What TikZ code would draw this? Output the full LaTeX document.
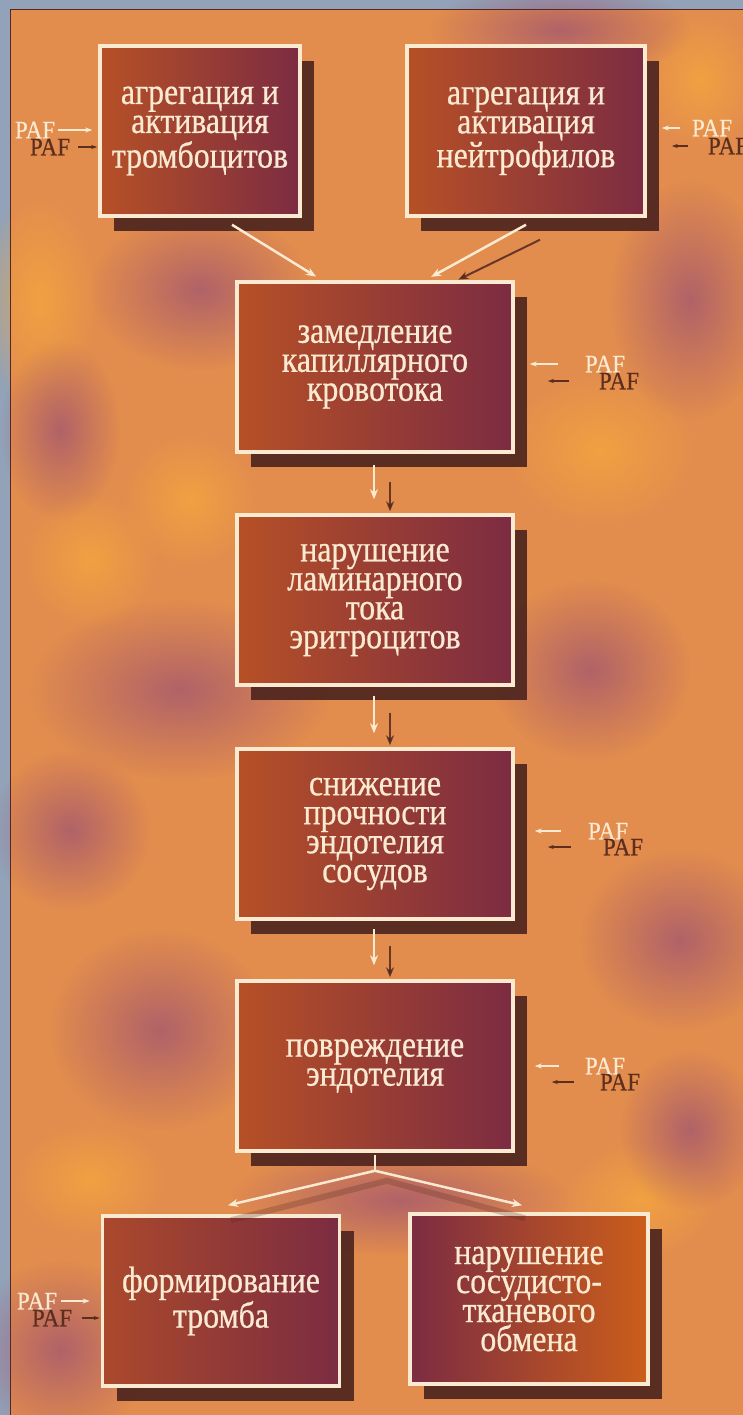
\documentclass[tikz,border=0pt]{standalone}
\usepackage{fontspec}
\setmainfont{Liberation Serif}
\newfontfamily\boxfont[FakeStretch=0.86, FakeBold=0.6]{Liberation Serif}
\newfontfamily\paffont[FakeStretch=0.92, FakeBold=0.4]{Liberation Serif}
\usetikzlibrary{positioning,calc,shadows,fadings,arrows.meta}

\definecolor{framegray}{RGB}{146,162,184}
\definecolor{bgorange}{RGB}{226,140,78}
\definecolor{bgpurple}{RGB}{160,84,112}
\definecolor{bgyellow}{RGB}{246,168,62}
\definecolor{cream}{RGB}{250,234,210}
\definecolor{shadowbrown}{RGB}{82,40,32}
\definecolor{darkpaf}{RGB}{92,46,30}
\definecolor{boxL}{RGB}{182,80,38}
\definecolor{boxM}{RGB}{150,54,46}
\definecolor{boxR}{RGB}{124,44,66}

\tikzfading[name=softblob, inner color=transparent!25, outer color=transparent!100]

\tikzset{
	stage/.style={rectangle, draw=cream, line width=3.5pt, minimum height=170pt, inner sep=0pt,
		align=center, text=cream, font=\boxfont\fontsize{37pt}{29pt}\selectfont,
		left color=boxL, middle color=boxM, right color=boxR,
		drop shadow={shadow xshift=14pt, shadow yshift=-15pt, fill=shadowbrown, opacity=0.95}},
	blotch/.style={path fading=softblob},
	wire/.style={draw=cream, line width=2.5pt, ->},
	wireshadow/.style={draw=shadowbrown, line width=2pt, opacity=0.85, ->},
	pafwhite/.style={text=cream, font=\paffont\fontsize{25pt}{25pt}\selectfont, inner sep=0pt},
	pafdark/.style={text=darkpaf, font=\paffont\fontsize{25pt}{25pt}\selectfont, inner sep=0pt},
	pafarrow/.style={draw=cream, line width=2pt, -{Stealth[length=7pt,width=5pt]}},
	pafshadow/.style={draw=darkpaf, line width=1.5pt, -{Stealth[length=6pt,width=4pt]}}
}

\newcommand{\stagebox}[6][]{
	\node[stage, #1, minimum width=#5pt] (#2) at (#3pt,#4pt) {#6};
}

\begin{document}
\begin{tikzpicture}[x=1pt, y=1pt, >={Stealth[length=10pt,width=8pt]}]
	\useasboundingbox (0,0) rectangle (743,-1415);
	% frame and mottled background
	\fill[framegray] (0,0) rectangle (743,-1415);
	\fill[bgorange] (10,-10) rectangle (743,-1415);
	\fill[bgyellow, blotch] (40,-300) ellipse (60 and 110);
	\fill[bgyellow, blotch] (190,-500) ellipse (70 and 70);
	\fill[bgyellow, blotch] (600,-450) ellipse (100 and 80);
	\fill[bgyellow, blotch] (90,-560) ellipse (70 and 70);
	\fill[bgyellow, blotch] (90,-1180) ellipse (80 and 60);
	\fill[bgyellow, blotch] (640,-1200) ellipse (80 and 60);
	\fill[bgyellow, blotch] (700,-80) ellipse (60 and 70);
	\fill[bgpurple, blotch] (200,-290) ellipse (110 and 80);
	\fill[bgpurple, blotch] (560,-30) ellipse (130 and 50);
	\fill[bgpurple, blotch] (690,-300) ellipse (80 and 120);
	\fill[bgpurple, blotch] (60,-430) ellipse (60 and 90);
	\fill[bgpurple, blotch] (180,-690) ellipse (150 and 90);
	\fill[bgpurple, blotch] (590,-670) ellipse (100 and 90);
	\fill[bgpurple, blotch] (70,-830) ellipse (80 and 80);
	\fill[bgpurple, blotch] (680,-940) ellipse (100 and 90);
	\fill[bgpurple, blotch] (160,-1030) ellipse (110 and 100);
	\fill[bgpurple, blotch] (690,-1130) ellipse (70 and 80);
	\fill[bgpurple, blotch] (400,-1200) ellipse (170 and 55);
	\fill[bgpurple, blotch] (60,-1350) ellipse (90 and 90);
	\draw[shadowbrown, line width=1pt] (10,-1415) -- (10,-10) -- (743,-10);

	% stages
	\stagebox{b1}{200}{-131}{200}{агрегация и\\активация\\тромбоцитов}
	\stagebox{b2}{526}{-131}{238}{агрегация и\\активация\\нейтрофилов}
	\stagebox{b3}{375}{-367}{276}{замедление\\капиллярного\\кровотока}
	\stagebox{b4}{375}{-600}{276}{нарушение\\ламинарного\\тока\\эритроцитов}
	\stagebox{b5}{375}{-834}{276}{снижение\\прочности\\эндотелия\\сосудов}
	\stagebox{b6}{375}{-1066}{276}{повреждение\\эндотелия}
	\stagebox[left color=boxL!80!boxR, right color=boxR]{b7}{221}{-1301}{237}{формирование\\тромба}
	\stagebox[left color=boxR, middle color=boxM!60!boxL, right color=boxL!70!orange]{b8}{529}{-1299}{238}{нарушение\\сосудисто-\\тканевого\\обмена}

	% flow
	\draw[wire, shorten >=7pt] ([xshift=32pt,yshift=-7pt]b1.south) -- ([xshift=-53pt]b3.north);
	\draw[wireshadow, shorten >=6pt] ([xshift=14pt,yshift=-22pt]b2.south) -- ([xshift=78pt,yshift=-2pt]b3.north);
	\draw[wire, shorten >=7pt] ([yshift=-7pt]b2.south) -- ([xshift=50pt]b3.north);

	\draw[wire] ([xshift=-1pt,yshift=-11pt]b3.south) -- ([xshift=-1pt,yshift=14pt]b4.north);
	\draw[wireshadow] ([xshift=15pt,yshift=-28pt]b3.south) -- ([xshift=15pt,yshift=2pt]b4.north);
	\draw[wire] ([xshift=-1pt,yshift=-9pt]b4.south) -- ([xshift=-1pt,yshift=14pt]b5.north);
	\draw[wireshadow] ([xshift=15pt,yshift=-26pt]b4.south) -- ([xshift=15pt,yshift=2pt]b5.north);
	\draw[wire] ([xshift=-1pt,yshift=-8pt]b5.south) -- ([xshift=-1pt,yshift=14pt]b6.north);
	\draw[wireshadow] ([xshift=15pt,yshift=-25pt]b5.south) -- ([xshift=15pt,yshift=2pt]b6.north);

	\coordinate (fork) at ([yshift=-18pt]b6.south);
	\coordinate (forkshadow) at ([xshift=12pt,yshift=-28pt]b6.south);
	\draw[shadowbrown, line width=6pt, opacity=0.25] ([xshift=10pt,yshift=-6pt]b7.north) -- (forkshadow) -- ([xshift=-4pt,yshift=-6pt]b8.north);
	\draw[draw=cream, line width=2.5pt] ([yshift=-2pt]b6.south) -- (fork);
	\draw[wire] (fork) -- ([xshift=7pt,yshift=9pt]b7.north);
	\draw[wire] (fork) -- ([xshift=-7pt,yshift=7pt]b8.north);

	% PAF inputs
	\node[pafwhite] (paf1) at (35,-130) {PAF};
	\node[pafdark] (paf1d) at (50,-147) {PAF};
	\draw[pafarrow, shorten <=3pt, shorten >=6pt] (paf1.east) -- (paf1.east -| b1.west);
	\draw[pafshadow, shorten <=8pt, shorten >=1pt] (paf1d.east) -- (paf1d.east -| b1.west);

	\node[pafwhite] (paf2) at (712,-128) {PAF};
	\node[pafdark] (paf2d) at (728,-146) {PAF};
	\draw[pafarrow, shorten <=12pt, shorten >=15pt] (paf2.west) -- (paf2.west -| b2.east);
	\draw[pafshadow, shorten <=20pt, shorten >=25pt] (paf2d.west) -- (paf2d.west -| b2.east);

	\node[pafwhite] (paf3) at (605,-364) {PAF};
	\node[pafdark] (paf3d) at (619,-381) {PAF};
	\draw[pafarrow, shorten <=27pt, shorten >=15pt] (paf3.west) -- (paf3.west -| b3.east);
	\draw[pafshadow, shorten <=30pt, shorten >=33pt] (paf3d.west) -- (paf3d.west -| b3.east);

	\node[pafwhite] (paf5) at (608,-831) {PAF};
	\node[pafdark] (paf5d) at (623,-847) {PAF};
	\draw[pafarrow, shorten <=27pt, shorten >=20pt] (paf5.west) -- (paf5.west -| b5.east);
	\draw[pafshadow, shorten <=32pt, shorten >=33pt] (paf5d.west) -- (paf5d.west -| b5.east);

	\node[pafwhite] (paf6) at (605,-1066) {PAF};
	\node[pafdark] (paf6d) at (620,-1082) {PAF};
	\draw[pafarrow, shorten <=26pt, shorten >=20pt] (paf6.west) -- (paf6.west -| b6.east);
	\draw[pafshadow, shorten <=26pt, shorten >=37pt] (paf6d.west) -- (paf6d.west -| b6.east);

	\node[pafwhite] (paf7) at (37,-1301) {PAF};
	\node[pafdark] (paf7d) at (52,-1318) {PAF};
	\draw[pafarrow, shorten <=4pt, shorten >=11pt] (paf7.east) -- (paf7.east -| b7.west);
	\draw[pafshadow, shorten <=10pt, shorten >=1pt] (paf7d.east) -- (paf7d.east -| b7.west);
\end{tikzpicture}
\end{document}
